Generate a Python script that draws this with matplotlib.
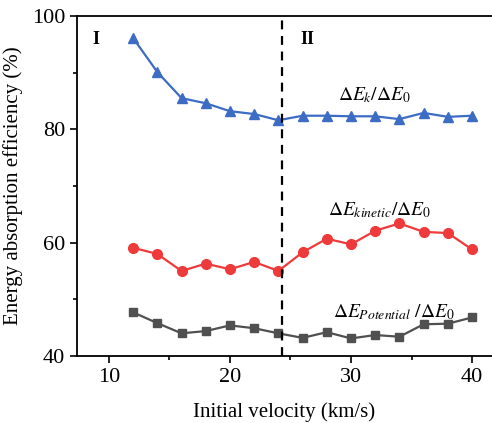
import matplotlib.pyplot as plt
from matplotlib.ticker import MultipleLocator

plt.rcParams['font.family'] = 'Liberation Serif'
plt.rcParams['mathtext.fontset'] = 'stix'

velocity = [12, 14, 16, 18, 20, 22, 24, 26, 28, 30, 32, 34, 36, 38, 40]
ek = [96.1, 90.1, 85.5, 84.6, 83.2, 82.7, 81.6, 82.4, 82.4, 82.3, 82.3, 81.8, 82.9, 82.2, 82.4]
kinetic = [59.1, 58.0, 55.0, 56.3, 55.3, 56.6, 55.0, 58.3, 60.7, 59.7, 62.1, 63.4, 61.9, 61.7, 58.8]
potential = [47.7, 45.8, 44.0, 44.4, 45.4, 44.9, 44.0, 43.2, 44.2, 43.1, 43.7, 43.4, 45.6, 45.7, 46.8]
split_x = 24.3

fig = plt.figure(figsize=(4.92, 4.23), dpi=100)
ax = fig.add_axes([0.1565, 0.1584, 0.8435, 0.8038])

ax.plot(velocity, ek, '-^', color='#3d6cc4', lw=1.6, ms=7)
ax.plot(velocity, kinetic, '-o', color='#ee3a3a', lw=1.6, ms=7)
ax.plot(velocity, potential, '-s', color='#505050', lw=1.6, ms=6)
ax.axvline(split_x, color='black', ls=(0, (4, 3)), lw=1.6)

ax.text(28.9, 86.1, r'$\Delta E_{k}/\Delta E_{\mathit{0}}$', fontsize=14, va='center')
ax.text(28.1, 65.8, r'$\Delta E_{kinetic}/\Delta E_{\mathit{0}}$', fontsize=14, va='center')
ax.text(28.5, 47.8, r'$\Delta E_{Potential}\ /\Delta E_{\mathit{0}}$', fontsize=14, va='center')
ax.text(8.6, 95.8, 'I', fontsize=13, fontweight='bold', va='center')
ax.text(25.8, 95.8, 'II', fontsize=13, fontweight='bold', va='center')

ax.set_xlim(7.36, 41.65)
ax.set_ylim(40, 100)
ax.xaxis.set_major_locator(MultipleLocator(10))
ax.xaxis.set_minor_locator(MultipleLocator(5))
ax.yaxis.set_major_locator(MultipleLocator(20))
ax.yaxis.set_minor_locator(MultipleLocator(10))
ax.tick_params(which='both', direction='out', width=1.2, labelsize=16)
ax.tick_params(which='major', length=5)
ax.tick_params(which='minor', length=3)
ax.spines['right'].set_visible(False)
for s in ['left', 'bottom', 'top']:
    ax.spines[s].set_linewidth(1.3)

ax.set_xlabel('Initial velocity (km/s)', fontsize=15, labelpad=11)
ax.set_ylabel('Energy absorption efficiency (%)', fontsize=15, labelpad=6)

fig.savefig('out.png', dpi=100)
